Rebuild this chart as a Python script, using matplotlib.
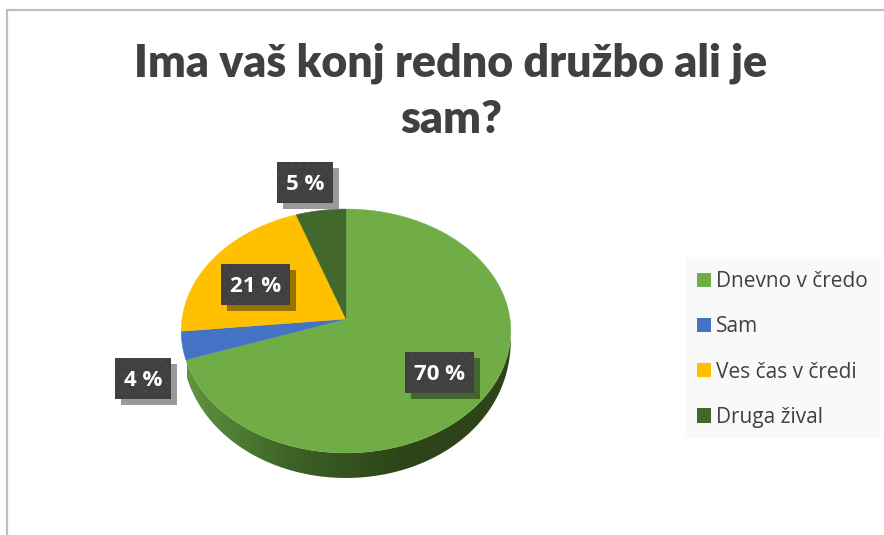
import numpy as np
import matplotlib
matplotlib.use("Agg")
import matplotlib.pyplot as plt
from matplotlib.colors import LinearSegmentedColormap
from matplotlib.patches import Polygon, Rectangle

# data
categories = ["Dnevno v čredo", "Sam", "Ves čas v čredi", "Druga žival"]
values = [69.7, 3.7, 21.2, 5.4]
colors = ["#70AD47", "#4472C4", "#FFC000", "#43682B"]
title = "Ima vaš konj redno družbo ali je\nsam?"

plt.rcParams["hatch.linewidth"] = 0.6

fig = plt.figure(figsize=(8.84, 5.35), dpi=100)
ax = fig.add_axes([0, 0, 1, 1])

# chart frame, only top and left are visible in the crop
ax.plot([7, 7, 884], [535, 10, 10], color="#BFBFBF", lw=1.6, solid_joinstyle="miter")

ax.text(451, 91, title, ha="center", va="center", fontsize=32.1, fontweight="heavy",
        family="Lato", color="#404040", linespacing=1.45)


# pie seen in perspective: unit circle -> picture pixels
def project(angle):
    a = np.radians(angle)
    x, y = np.sin(a), np.cos(a)
    k = 0.0983
    return 346 + 164 * x / (1 + k * y), 319 - 120.8 * y / (1 + k * y), y


# side wall, a gradient clipped to the lower rim
edges = np.concatenate([[0], np.cumsum(values)]) / sum(values) * 360
rim = np.linspace(90, edges[1], 300)
rx, ry, rc = project(rim)
depth = 25 * np.sqrt(np.clip(-rc, 0, None))
wall = Polygon(np.c_[np.r_[rx, rx[::-1]], np.r_[ry, (ry + depth)[::-1]]], closed=True,
               transform=ax.transData, fc="none", ec="none")
ax.add_patch(wall)
wall_cmap = LinearSegmentedColormap.from_list("wall", ["#5F9440", "#3C6026", "#2D4418", "#2D4418"])
img = ax.imshow(np.linspace(0, 1, 256)[None, :], cmap=wall_cmap, extent=(187, 511, 480, 340),
                aspect="auto", zorder=2)
img.set_clip_path(wall)

# top face
for i in range(len(values)):
    arc = np.linspace(edges[i], edges[i + 1], 120)
    px, py, _ = project(arc)
    ax.fill(np.r_[346, px], np.r_[319, py], color=colors[i], lw=0.3, zorder=3)

# data labels, dark box with a soft offset shadow
label_boxes = [(405, 352, 69), (115, 358, 56), (221, 264, 69), (277, 162, 56)]
for val, (bx, by, bw) in zip(values, label_boxes):
    ax.add_patch(Rectangle((bx + 5.5, by + 5.5), bw, 41, facecolor="black", alpha=0.4,
                           lw=0, zorder=4))
    ax.add_patch(Rectangle((bx, by), bw, 41, facecolor="#404040", edgecolor="#4A4A4A",
                           hatch="..", lw=0, zorder=5))
    ax.text(bx + bw / 2, by + 20.5, "%d %%" % round(val), ha="center", va="center_baseline",
            fontsize=16, fontweight="bold", family="Open Sans", color="white", zorder=6)

# legend
ax.add_patch(Rectangle((685, 257), 196, 181, facecolor="#F9F9F9", lw=0, zorder=1))
handles = [Rectangle((0, 0), 1, 1, facecolor=c, lw=0) for c in colors]
leg = ax.legend(handles, categories, loc="center left", bbox_to_anchor=(691, 349.5),
                bbox_transform=ax.transData, frameon=False,
                handlelength=0.67, handleheight=0.67, handletextpad=0.25, labelspacing=1.16,
                borderpad=0, borderaxespad=0.3, prop={"family": "Open Sans", "size": 15})
for t in leg.get_texts():
    t.set_color("#404040")

ax.set_xlim(0, 884)
ax.set_ylim(535, 0)
ax.axis("off")

fig.savefig("out.png", dpi=100)
